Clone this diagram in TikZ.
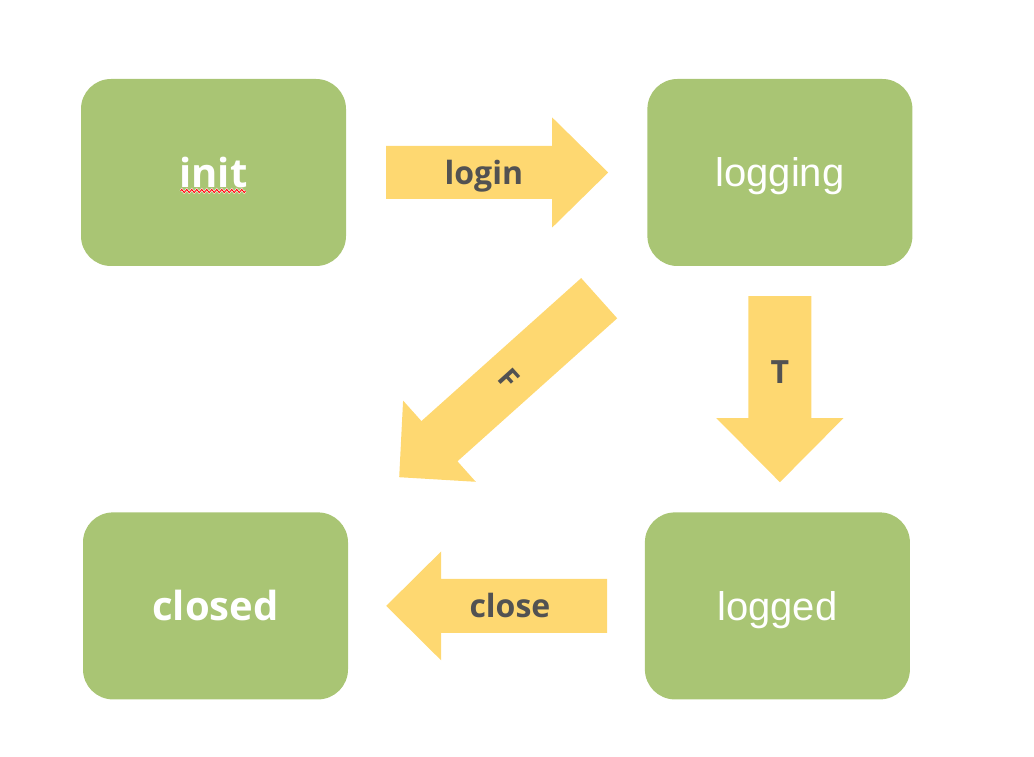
\documentclass[tikz,border=0pt]{standalone}
\usepackage{fontspec}
\usetikzlibrary{positioning, calc, decorations.pathmorphing}
\newfontfamily\labelFont{Open Sans}
\newfontfamily\stateFont{Liberation Sans}
\definecolor{cState}{RGB}{169, 197, 116}
\definecolor{cArrow}{RGB}{254, 216, 113}
\definecolor{cLabel}{RGB}{82, 82, 82}

\begin{document}
\begin{tikzpicture}[
    x=1pt, y=1pt,
    state/.style={rectangle, rounded corners=30pt, fill=cState, minimum width=265pt, minimum height=187pt, inner sep=0pt, text=white},
    boldState/.style={state, font=\labelFont\bfseries\fontsize{40}{48}\selectfont},
    thinState/.style={state, font=\stateFont\fontsize{40}{48}\selectfont, text height=37pt, text depth=8.4pt},
    arrowlabel/.style={inner sep=0pt, text=cLabel, font=\labelFont\bfseries\fontsize{32}{38}\selectfont}
]

    % --- Makro: dicker Blockpfeil ---
    % #1 Name, #2 Start, #3 Spitze, #4 halbe Schaftbreite, #5 halbe Kopfbreite, #6 Kopflaenge
    \newcommand{\blockArrow}[6]{
        \coordinate (#1_tail) at #2;
        \coordinate (#1_tip) at #3;
        \coordinate (#1_base) at ($(#1_tip)!#6!(#1_tail)$);
        \fill[cArrow] ($(#1_tail)!#4!90:(#1_tip)$) -- ($(#1_base)!#4!90:(#1_tip)$)
            -- ($(#1_base)!#5!90:(#1_tip)$) -- (#1_tip)
            -- ($(#1_base)!#5!-90:(#1_tip)$) -- ($(#1_base)!#4!-90:(#1_tip)$)
            -- ($(#1_tail)!#4!-90:(#1_tip)$) -- cycle;
    }

    \useasboundingbox (0,0) rectangle (1034,756);

    % Zustaende
    \node[boldState] (init) at (213.5,583.5) {init};
    \node[thinState, right=301pt of init] (logging) {logging};
    \node[boldState, below=246pt of init, xshift=2pt] (closed) {closed};
    \node[thinState, below=246pt of logging, xshift=-2.5pt] (logged) {logged};

    % Rechtschreib-Wellenlinie unter "init"
    \draw[white, line width=2pt, decorate, decoration={zigzag, segment length=5pt, amplitude=1.6pt}]
        ($(init.center)+(-33,-18.5)$) -- ($(init.center)+(32,-18.5)$);
    \draw[red, line width=0.9pt, decorate, decoration={zigzag, segment length=5pt, amplitude=1.6pt}]
        ($(init.center)+(-33,-18.5)$) -- ($(init.center)+(32,-18.5)$);

    % Pfeile
    \blockArrow{login}{($(init.east)+(40,0)$)}{($(logging.west)+(-39,0)$)}{26.5pt}{55pt}{56pt}
    \blockArrow{t}{($(logging.south)+(0,-30)$)}{($(logging.south)+(0,-216)$)}{31.5pt}{63.5pt}{64pt}
    \blockArrow{f}{($(logging.south west)+(-48,-32)$)}{($(closed.north east)+(51,35)$)}{27pt}{54.5pt}{54pt}
    \blockArrow{close}{($(logged.west)+(-37.5,0)$)}{($(closed.east)+(38,0)$)}{27pt}{54.5pt}{55pt}

    % Beschriftungen
    \node[arrowlabel, yshift=-4pt] (loginLabel) at ($(login_tail)!0.44!(login_tip)$) {login};
    \node[arrowlabel] (tLabel) at ($(t_tail)!0.41!(t_tip)$) {T};
    \node[arrowlabel, rotate=-48, font=\labelFont\bfseries\fontsize{28}{34}\selectfont] (fLabel) at ($(f_tail)!0.45!(f_tip)$) {F};
    \node[arrowlabel] (closeLabel) at ($(close_tail)!0.44!(close_tip)$) {close};

\end{tikzpicture}
\end{document}
